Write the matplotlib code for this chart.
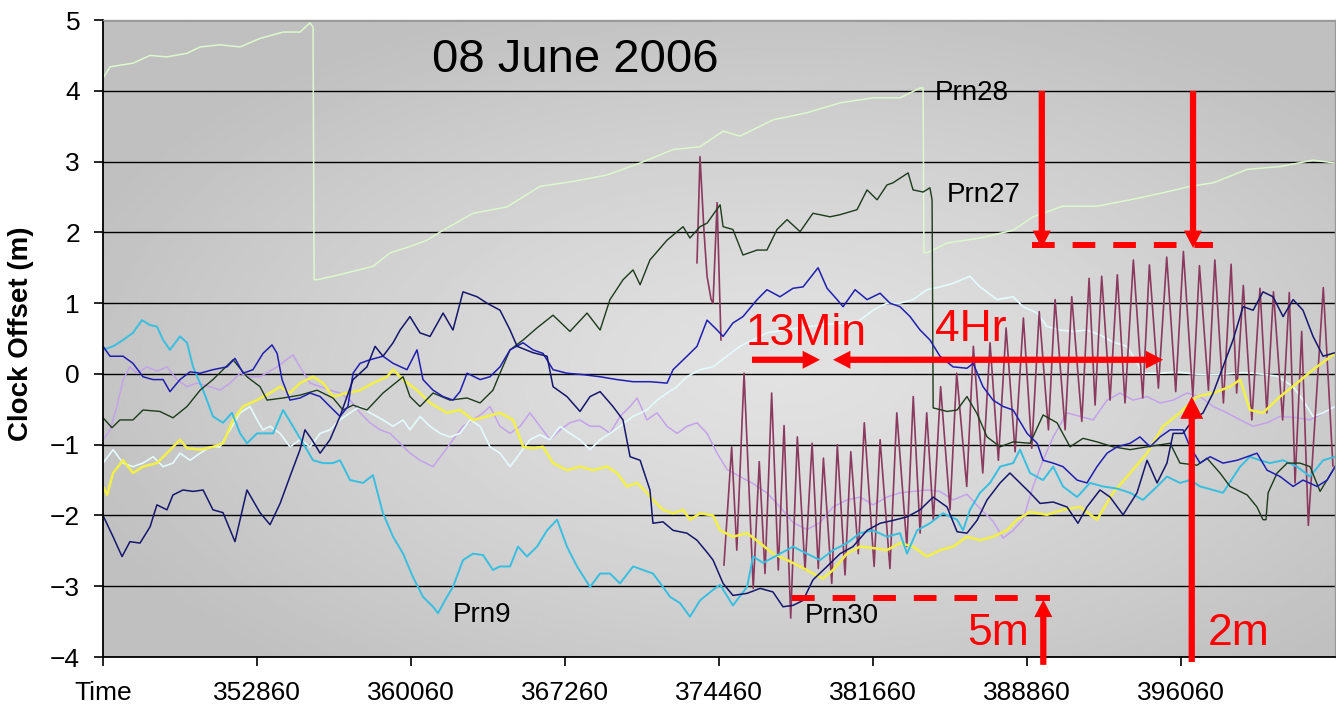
import numpy as np
import matplotlib
matplotlib.use("Agg")
import matplotlib.pyplot as plt

plt.rcParams['font.family'] = ['Liberation Sans', 'DejaVu Sans']

# start of the plotted window, GPS seconds of week (08 June 2006, 00:01)
T0 = 345660

x_ticks = [345660, 352860, 360060, 367260, 374460, 381660, 388860, 396060]
x_tick_labels = ['Time', '352860', '360060', '367260', '374460', '381660', '388860', '396060']
y_ticks = [-4, -3, -2, -1, 0, 1, 2, 3, 4, 5]

# all times below are seconds after T0, offsets in metres

# Prn28 - pale green, two clock jumps
prn28_t = [0, 330, 1400, 2200, 2990, 3930, 4540, 5470, 6410, 7340,
           8420, 9210, 9680, 9820, 9870, 10010, 10750, 11690, 12620, 13420,
           14350, 15150, 15900, 17300, 18890, 20430, 21970, 23560, 25110, 26650,
           27910, 28990, 29780, 31330, 32910, 34460, 36000, 37260, 38200, 38340,
           38380, 38520, 39460, 41000, 42550, 43480, 44880, 46470, 48020, 49560,
           50820, 51900, 53490, 55030, 56570, 57600]
prn28_v = [4.18, 4.34, 4.39, 4.50, 4.48, 4.53, 4.62, 4.65, 4.62, 4.74,
           4.83, 4.83, 4.96, 4.90, 1.33, 1.33, 1.38, 1.45, 1.52, 1.71,
           1.80, 1.89, 2.03, 2.27, 2.36, 2.65, 2.72, 2.81, 2.98, 3.17,
           3.21, 3.43, 3.36, 3.59, 3.69, 3.83, 3.90, 3.90, 4.04, 4.04,
           1.71, 1.71, 1.85, 1.92, 2.03, 2.22, 2.37, 2.37, 2.46, 2.56,
           2.65, 2.70, 2.89, 2.93, 3.02, 2.98]

# Prn27 - dark green, one jump
prn27_t = [0, 420, 790, 1400, 1870, 2660, 3270, 3930, 4540, 5140,
           6080, 6730, 7340, 7670, 8420, 9210, 10010, 10750, 11220, 11690,
           12340, 13090, 14030, 14350, 14820, 15430, 16220, 17020, 17630, 18230,
           18560, 19030, 19640, 20290, 21040, 21830, 22630, 23240, 23700, 24310,
           24780, 25110, 25570, 26370, 27120, 27440, 27910, 28240, 28850, 28990,
           29450, 29920, 30580, 31040, 31510, 31980, 32590, 33190, 33990, 34460,
           35250, 35720, 36190, 36650, 36930, 37640, 37870, 38340, 38660, 38760,
           38810, 39460, 39930, 40390, 40860, 41330, 41940, 42550, 43340, 43950,
           44600, 45210, 45820, 46470, 47220, 48020, 48810, 49890, 50350, 51150,
           51610, 52220, 52690, 53490, 53950, 54230, 54370, 54470, 54890, 55360,
           55960, 56430, 56900, 57600]
prn27_v = [-0.62, -0.76, -0.65, -0.65, -0.51, -0.53, -0.62, -0.46, -0.23, -0.08,
           0.20, -0.04, -0.18, -0.37, -0.34, -0.30, -0.23, -0.34, -0.51, -0.44,
           -0.51, -0.27, -0.04, -0.32, -0.46, -0.27, -0.37, -0.34, -0.41, -0.23,
           0.01, 0.34, 0.48, 0.65, 0.83, 0.60, 0.86, 0.62, 1.05, 1.33,
           1.47, 1.26, 1.61, 1.89, 2.08, 1.92, 2.08, 2.13, 2.39, 2.08,
           2.04, 1.68, 1.75, 1.75, 2.04, 2.18, 2.01, 2.27, 2.22, 2.25,
           2.32, 2.60, 2.46, 2.67, 2.70, 2.84, 2.60, 2.57, 2.63, 2.46,
           -0.48, -0.53, -0.51, -0.32, -0.56, -0.89, -1.03, -0.96, -0.98, -0.58,
           -0.69, -1.03, -0.91, -0.96, -1.03, -1.07, -1.03, -0.98, -1.26, -1.29,
           -1.19, -1.40, -1.59, -1.71, -1.88, -2.06, -2.06, -1.68, -1.40, -1.26,
           -1.26, -1.31, -1.66, -1.31]

# Prn30 - maroon, spike then the 13 minute oscillation
prn30_spike_t = [27770, 27910, 28100, 28240, 28430, 28520, 28710, 28890]
prn30_spike_v = [1.57, 3.07, 2.00, 1.38, 1.05, 1.00, 2.42, 0.48]
prn30_t = [29030, 29390, 29630, 29970, 30400, 30680, 30950, 31260, 31570, 31840,
           32150, 32460, 32820, 33150, 33440, 33680, 34070, 34330, 34690, 34960,
           35310, 35590, 36050, 36330, 36790, 37110, 37580, 37880, 38200, 38510,
           38820, 39160, 39600, 39910, 40380, 40690, 41130, 41470, 41860, 42220,
           42640, 43030, 43420, 43770, 44200, 44510, 44980, 45290, 45760, 46100,
           46380, 46690, 47080, 47420, 47780, 48170, 48610, 48920, 49340, 49730,
           50150, 50510, 50950, 51260, 51680, 51980, 52380, 52740, 53000, 53310,
           53710, 54090, 54410, 54720, 55150, 55460, 55730, 56040, 56350, 57050,
           57500]
prn30_v = [-2.70, -1.03, -2.49, 0.01, -3.03, -1.24, -2.82, -0.27, -2.77, -0.73,
           -3.45, -0.89, -2.77, -0.98, -2.75, -1.19, -2.96, -1.00, -2.84, -1.10,
           -2.54, -0.69, -2.72, -0.93, -2.75, -0.55, -2.44, -0.32, -2.25, -0.55,
           -2.07, -0.18, -1.92, 0.01, -1.59, 0.39, -1.40, 0.44, -1.22, 0.65,
           -1.10, 0.79, -1.05, 0.88, -0.79, 1.05, -0.79, 1.09, -0.67, 1.35,
           -0.44, 1.38, -0.37, 1.40, -0.41, 1.61, -0.34, 1.54, -0.20, 1.65,
           -0.25, 1.73, -0.32, 1.53, -0.23, 1.61, -0.41, 1.55, -0.27, 1.25,
           -0.65, 1.21, -0.55, 1.16, -0.65, 1.15, -1.54, 0.60, -2.14, 1.22,
           -1.30]

# Prn9 - cyan
prn9_t = [0, 470, 940, 1400, 1820, 2200, 2520, 2810, 3130, 3600,
          3930, 4210, 4680, 5140, 5610, 6030, 6410, 6730, 7200, 7950,
          8420, 8880, 9350, 9820, 10290, 10750, 11080, 11550, 12160, 12620,
          13090, 13560, 14030, 14490, 14960, 15430, 15660, 16080, 16360, 16830,
          17300, 17770, 18230, 18560, 19030, 19400, 19820, 20290, 20760, 21230,
          21690, 22160, 22770, 23240, 23700, 24170, 24780, 25250, 25710, 26180,
          26510, 26980, 27440, 27910, 28520, 28850, 29450, 30110, 30390, 30860,
          31650, 32260, 32910, 33520, 34130, 34780, 35390, 36000, 36650, 37260,
          37590, 38060, 38660, 39270, 39930, 40210, 40530, 41000, 41470, 41940,
          42550, 42870, 43340, 43950, 44420, 44880, 45540, 46140, 46750, 47410,
          48020, 48620, 49280, 49740, 50350, 50820, 51290, 51900, 52360, 53160,
          53620, 54090, 54560, 55170, 55820, 56430, 57040, 57600]
prn9_v = [0.34, 0.39, 0.48, 0.58, 0.76, 0.69, 0.67, 0.48, 0.34, 0.53,
          0.44, 0.10, -0.23, -0.60, -0.69, -0.55, -0.84, -0.98, -0.84, -0.84,
          -0.51, -0.74, -0.98, -1.22, -1.26, -1.26, -1.22, -1.50, -1.54, -1.43,
          -1.97, -2.30, -2.54, -2.87, -3.15, -3.29, -3.38, -3.15, -3.01, -2.63,
          -2.54, -2.56, -2.77, -2.72, -2.72, -2.44, -2.58, -2.44, -2.21, -2.06,
          -2.44, -2.72, -3.01, -2.82, -2.82, -2.96, -2.72, -2.77, -2.82, -3.01,
          -3.15, -3.24, -3.43, -3.20, -3.05, -2.98, -3.27, -3.01, -2.58, -2.67,
          -2.54, -2.44, -2.54, -2.63, -2.49, -2.39, -2.25, -2.21, -2.30, -2.25,
          -2.54, -2.21, -2.11, -1.97, -2.06, -2.21, -1.92, -1.68, -1.54, -1.31,
          -1.26, -1.07, -1.40, -1.50, -1.31, -1.59, -1.74, -1.54, -1.59, -1.62,
          -1.68, -1.78, -1.59, -1.45, -1.54, -1.50, -1.59, -1.64, -1.68, -1.31,
          -1.17, -1.22, -1.26, -1.22, -1.31, -1.45, -1.22, -1.17]

# navy satellite
navy_t = [0, 470, 890, 1260, 1730, 2200, 2520, 2990, 3270, 3740,
          4210, 4680, 5140, 5610, 6170, 6730, 7340, 7810, 8280, 8740,
          9210, 9440, 9770, 10150, 10610, 11080, 11690, 12340, 12720, 13090,
          13560, 13890, 14350, 14820, 15290, 15900, 16360, 16830, 17490, 17950,
          18560, 19030, 19360, 20100, 20760, 21040, 21690, 22300, 22770, 23240,
          23840, 24310, 24640, 25110, 25570, 25710, 26180, 26650, 27300, 27770,
          28290, 28520, 28990, 29450, 30110, 30720, 31320, 31790, 32260, 32730,
          33190, 33850, 34460, 35060, 35720, 36330, 36930, 37590, 38200, 38810,
          39460, 39930, 40390, 40860, 41330, 41940, 42400, 42870, 43340, 43810,
          44420, 45070, 45580, 46000, 46610, 47080, 47690, 48340, 48810, 49280,
          49740, 50030, 50490, 50960, 51430, 51900, 52360, 52830, 53300, 53770,
          54230, 54700, 55170, 55640, 56100, 56570, 57040, 57600]
navy_v = [-2.00, -2.30, -2.58, -2.37, -2.39, -2.16, -1.85, -1.92, -1.71, -1.64,
          -1.66, -1.64, -1.92, -1.96, -2.37, -1.64, -1.96, -2.13, -1.83, -1.45,
          -1.07, -0.79, -0.93, -1.12, -0.93, -0.60, -0.08, 0.10, 0.39, 0.25,
          0.44, 0.62, 0.81, 0.58, 0.53, 0.86, 0.62, 1.16, 1.09, 1.00,
          0.90, 0.62, 0.39, 0.30, 0.25, -0.18, -0.32, -0.53, -0.32, -0.25,
          -0.46, -0.65, -1.17, -1.22, -1.64, -2.11, -2.09, -2.21, -2.25, -2.35,
          -2.54, -2.63, -2.96, -3.13, -3.10, -3.03, -3.08, -3.29, -3.27, -3.20,
          -2.91, -2.72, -2.54, -2.44, -2.21, -2.11, -2.07, -2.02, -1.92, -1.74,
          -1.88, -2.23, -2.25, -2.07, -1.78, -1.54, -1.40, -1.54, -1.68, -1.83,
          -1.81, -1.88, -2.11, -1.88, -1.64, -1.74, -1.99, -1.68, -1.22, -1.54,
          -1.26, -0.84, -0.84, -0.65, -0.55, -0.27, 0.10, 0.48, 0.95, 0.90,
          1.16, 1.09, 0.81, 1.05, 0.90, 0.53, 0.25, 0.30]

# blue satellite
blue_t = [0, 330, 940, 1400, 1870, 2340, 2810, 3130, 3600, 4070,
          4540, 5140, 5800, 6170, 6550, 7010, 7480, 7900, 8140, 8370,
          8740, 9210, 9680, 10150, 10610, 11080, 11450, 11690, 12020, 12480,
          13090, 13560, 14210, 14680, 14960, 15430, 15900, 16360, 16690, 17020,
          17630, 18090, 18560, 19030, 19640, 20100, 20570, 21040, 21690, 22440,
          23240, 24030, 24780, 25570, 26370, 26650, 27300, 27770, 28240, 28710,
          28990, 29450, 29920, 30580, 31040, 31650, 32260, 32730, 33430, 33850,
          34320, 34600, 35160, 35720, 36330, 36790, 37260, 37730, 38200, 38660,
          39130, 39740, 40390, 40680, 41140, 41610, 42080, 42550, 43200, 43670,
          43950, 44420, 44880, 45540, 46000, 46470, 46940, 47410, 48020, 48480,
          48950, 49420, 49890, 50490, 50820, 51290, 51760, 52360, 53020, 53490,
          53950, 54420, 55030, 55640, 56100, 56760, 57230, 57600]
blue_v = [0.39, 0.25, 0.25, 0.15, -0.04, -0.08, -0.08, -0.25, -0.08, 0.03,
          0.01, 0.06, 0.10, 0.22, 0.01, 0.06, 0.29, 0.41, 0.29, -0.08,
          -0.37, -0.34, -0.27, -0.32, -0.46, -0.60, -0.46, 0.01, 0.15, 0.20,
          0.25, 0.15, 0.06, 0.34, -0.08, -0.23, -0.32, -0.37, -0.25, 0.01,
          -0.08, -0.04, 0.10, 0.34, 0.44, 0.34, 0.29, 0.06, 0.01, -0.01,
          -0.04, -0.08, -0.11, -0.11, -0.13, 0.06, 0.25, 0.39, 0.76, 0.62,
          0.53, 0.72, 0.81, 1.05, 1.19, 1.09, 1.21, 1.23, 1.50, 1.21,
          1.05, 0.95, 1.19, 1.05, 1.14, 1.00, 0.95, 0.81, 0.62, 0.48,
          0.25, 0.10, 0.08, 0.15, -0.18, -0.37, -0.46, -0.51, -0.84, -0.98,
          -1.22, -1.26, -1.31, -1.50, -1.54, -1.31, -1.12, -1.03, -0.98, -0.89,
          -1.03, -0.89, -0.79, -0.79, -1.03, -1.26, -1.17, -1.26, -1.22, -1.17,
          -1.12, -1.36, -1.45, -1.59, -1.50, -1.59, -1.50, -1.31]

# yellow satellite
yellow_t = [0, 190, 470, 940, 1400, 1870, 2520, 2990, 3600, 3930,
            4540, 5140, 5610, 6080, 6550, 7200, 7810, 8280, 8740, 9210,
            9820, 10290, 10750, 11410, 12020, 12620, 13280, 13560, 14030, 14680,
            15290, 16080, 16690, 17300, 17950, 18560, 19170, 19640, 20100, 20570,
            21040, 21690, 22300, 22910, 23560, 24030, 24500, 24970, 25430, 25710,
            26180, 26650, 27120, 27440, 27910, 28520, 28850, 29450, 30110, 30720,
            31320, 31980, 32590, 33190, 33660, 34130, 34780, 35390, 36000, 36650,
            37260, 37870, 38520, 39130, 39740, 40390, 41000, 41610, 42260, 42730,
            43340, 44130, 44880, 45680, 46470, 47220, 48020, 48810, 49560, 50350,
            51150, 51900, 52690, 53160, 53620, 54230, 55030, 55820, 56570, 57600]
yellow_v = [-1.59, -1.71, -1.40, -1.22, -1.40, -1.31, -1.26, -1.12, -0.93, -1.05,
            -1.07, -1.03, -0.98, -0.65, -0.46, -0.37, -0.27, -0.18, -0.27, -0.13,
            -0.04, -0.13, -0.32, -0.27, -0.23, -0.13, -0.04, 0.06, -0.08, -0.23,
            -0.41, -0.55, -0.51, -0.65, -0.60, -0.55, -0.65, -1.03, -1.05, -1.03,
            -1.26, -1.36, -1.31, -1.36, -1.31, -1.40, -1.59, -1.54, -1.68, -1.78,
            -1.92, -1.97, -1.92, -2.06, -1.97, -2.00, -2.21, -2.30, -2.25, -2.39,
            -2.54, -2.63, -2.72, -2.82, -2.89, -2.77, -2.54, -2.44, -2.46, -2.49,
            -2.39, -2.44, -2.58, -2.49, -2.44, -2.30, -2.35, -2.30, -2.21, -2.06,
            -1.95, -1.99, -1.92, -1.88, -2.06, -1.68, -1.40, -1.12, -0.74, -0.55,
            -0.32, -0.27, -0.18, -0.08, -0.51, -0.55, -0.32, -0.13, 0.06, 0.29]

# lilac satellite
lilac_t = [0, 330, 650, 940, 1260, 1590, 2060, 2520, 2990, 3460,
           3930, 4390, 5000, 5470, 5940, 6410, 6870, 7340, 8140, 8880,
           9210, 9680, 10150, 10610, 11080, 11550, 12020, 12480, 12950, 13420,
           13890, 14350, 14820, 15430, 15900, 16360, 16830, 17300, 17770, 18090,
           18560, 19030, 19500, 19960, 20430, 20900, 21370, 21830, 22300, 22770,
           23240, 23700, 24170, 24640, 24970, 25430, 25900, 26370, 26840, 27300,
           27770, 28240, 28710, 29170, 29780, 30390, 31040, 31650, 32260, 32910,
           33520, 34130, 34780, 35390, 36000, 36650, 37260, 38520, 39130, 39740,
           40390, 41000, 41610, 42080, 42550, 43010, 43480, 43950, 44420, 45070,
           45680, 46290, 46940, 47550, 48160, 48810, 49420, 50030, 50680, 51290,
           51900, 52550, 53160, 53770, 54420, 55030, 55820, 56430, 57600]
lilac_v = [-0.93, -0.79, -0.46, -0.08, 0.10, 0.01, 0.10, 0.04, 0.10, -0.08,
           -0.18, -0.13, -0.18, -0.23, -0.13, 0.01, -0.04, -0.04, 0.10, 0.27,
           0.10, -0.13, -0.18, -0.23, -0.27, -0.37, -0.55, -0.69, -0.79, -0.84,
           -0.98, -1.12, -1.22, -1.31, -1.12, -0.93, -0.74, -0.65, -0.55, -0.46,
           -0.74, -0.84, -0.74, -0.55, -0.74, -0.93, -0.79, -0.69, -0.65, -0.74,
           -0.74, -0.84, -0.60, -0.46, -0.34, -0.65, -0.55, -0.74, -0.84, -0.74,
           -0.69, -0.84, -1.12, -1.35, -1.45, -1.55, -1.68, -1.88, -2.10, -2.20,
           -2.10, -1.88, -1.78, -1.74, -1.85, -1.74, -1.68, -1.64, -1.66, -1.78,
           -1.70, -1.90, -2.08, -2.32, -2.21, -2.06, -1.59, -1.22, -0.89, -0.55,
           -0.60, -0.65, -0.37, -0.27, -0.37, -0.32, -0.41, -0.37, -0.27, -0.32,
           -0.46, -0.55, -0.65, -0.74, -0.69, -0.60, -0.62, -0.65, -0.46]

# pale cyan satellite
pale_t = [0, 470, 940, 1400, 1870, 2340, 2810, 3270, 3600, 4070,
          4540, 5000, 5470, 5940, 6410, 6870, 7200, 7480, 7810, 8280,
          8740, 9210, 9680, 10150, 10610, 11080, 11550, 12020, 12480, 13090,
          13560, 14030, 14350, 14820, 15290, 15760, 16220, 16690, 17160, 17630,
          18090, 18560, 19030, 19500, 19960, 20430, 20900, 21370, 21830, 22300,
          22770, 23240, 23700, 24170, 24780, 25430, 25900, 26370, 26840, 27300,
          27910, 28520, 29170, 29780, 30390, 31040, 31890, 32820, 33760, 34690,
          35390, 36000, 36650, 37260, 37870, 38520, 39130, 39740, 40530, 41000,
          41800, 42550, 43010, 43670, 44130, 44740, 45350, 46000, 46610, 47220,
          47870, 48160, 48620, 49420, 50210, 50960, 51760, 52550, 53300, 54090,
          54890, 55640, 56100, 56570, 57040, 57600]
pale_v = [-1.26, -1.07, -1.26, -1.31, -1.26, -1.17, -1.31, -1.26, -1.12, -1.22,
          -1.12, -1.03, -1.03, -0.79, -0.55, -0.46, -0.65, -0.79, -0.74, -0.84,
          -1.03, -0.93, -1.03, -0.84, -0.79, -0.65, -0.55, -0.46, -0.55, -0.65,
          -0.74, -0.65, -0.79, -0.60, -0.74, -0.84, -0.89, -0.84, -0.65, -0.74,
          -1.03, -1.12, -1.31, -1.12, -0.93, -0.86, -0.93, -0.74, -0.84, -0.93,
          -1.07, -0.93, -0.84, -0.74, -0.60, -0.51, -0.37, -0.27, -0.18, -0.04,
          0.06, 0.10, 0.25, 0.39, 0.48, 0.58, 0.62, 0.66, 0.70, 0.72,
          0.76, 0.90, 1.00, 1.00, 1.05, 1.19, 1.23, 1.28, 1.38, 1.23,
          1.05, 1.09, 0.95, 0.86, 0.67, 0.62, 0.60, 0.62, 0.55, 0.45,
          0.39, 0.25, 0.01, 0.01, 0.03, 0.00, -0.01, 0.00, 0.02, 0.00,
          -0.03, -0.18, -0.37, -0.60, -0.55, -0.46]

fig = plt.figure(figsize=(13.36, 7.13), dpi=100)
ax = fig.add_axes([0.0771, 0.0785, 0.9222, 0.8934])

# grey backdrop, lighter towards the middle
yy, xx = np.mgrid[0:1:300j, 0:1:600j]
r = np.sqrt(((xx - 0.55) / 0.62) ** 2 + ((yy - 0.45) / 0.62) ** 2)
shade = 0.885 - 0.135 * np.clip(r, 0, 1) ** 1.3
ax.imshow(shade, cmap='gray', vmin=0, vmax=1, extent=(0, 1, 0, 1),
          transform=ax.transAxes, aspect='auto', origin='lower', zorder=0,
          interpolation='bilinear')

ax.set_xlim(T0, T0 + 57600)
ax.set_ylim(-4, 5)

series = [
    (prn28_t, prn28_v, '#dcf8cc', 1.1),
    (lilac_t, lilac_v, '#c4a2ea', 1.1),
    (pale_t, pale_v, '#e4fbfb', 1.2),
    (prn30_spike_t, prn30_spike_v, '#8a3a5e', 1.2),
    (prn30_t, prn30_v, '#8a3a5e', 1.2),
    (yellow_t, yellow_v, '#f2f048', 1.8),
    (prn9_t, prn9_v, '#38bfe0', 1.4),
    (prn27_t, prn27_v, '#1c3a1c', 1.0),
    (blue_t, blue_v, '#1f1fb0', 1.1),
    (navy_t, navy_v, '#16166c', 1.1),
]
for t, v, color, lw in series:
    ax.plot(T0 + np.asarray(t), v, color=color, lw=lw, zorder=2)

ax.set_xticks(x_ticks)
ax.set_xticklabels(x_tick_labels)
ax.set_yticks(y_ticks)
ax.tick_params(axis='both', direction='out', length=6.5, width=1.2,
               labelsize=19, colors='black')
ax.tick_params(axis='x', pad=11)
ax.tick_params(axis='y', pad=10)
ax.yaxis.grid(True, color='black', lw=1.0)
ax.set_axisbelow(True)
for side in ('left', 'bottom'):
    ax.spines[side].set_color('black')
    ax.spines[side].set_linewidth(1.3)
for side in ('top', 'right'):
    ax.spines[side].set_color('#9a9a9a')
    ax.spines[side].set_linewidth(1.0)

fig.text(0.0157, 0.532, 'Clock Offset (m)', rotation=90, ha='center',
         va='center', fontsize=20, fontweight='bold')

ax.text(361040, 4.27, '08 June 2006', fontsize=34, va='baseline')
ax.text(384560, 3.87, 'Prn28', fontsize=20, va='baseline')
ax.text(385120, 2.43, 'Prn27', fontsize=20, va='baseline')
ax.text(362020, -3.50, 'Prn9', fontsize=20, va='baseline')
ax.text(378480, -3.52, 'Prn30', fontsize=20, va='baseline')

RED = '#ff0000'


def red_arrow(x0, y0, x1, y1, head=1.25, width=1.3):
    style = 'simple,head_length=%.2f,head_width=%.2f,tail_width=0.45' % (head, width)
    ax.annotate('', xy=(x1, y1), xytext=(x0, y0), annotation_clip=False,
                arrowprops=dict(arrowstyle=style, mutation_scale=10, color=RED,
                                lw=0, shrinkA=0, shrinkB=0), zorder=5)


def red_dashes(x0, x1, y):
    ax.plot([x0, x1], [y, y], color=RED, lw=4.3, dashes=(3.8, 3.0),
            clip_on=False, zorder=5)


# 13 minute period and 4 hour span
red_arrow(376000, 0.20, 379180, 0.20)
red_arrow(387500, 0.20, 379790, 0.20)
red_arrow(387500, 0.20, 395220, 0.20)
ax.text(375680, 0.41, '13Min', fontsize=32, color=RED, va='baseline', zorder=5)
ax.text(384560, 0.46, '4Hr', fontsize=32, color=RED, va='baseline', zorder=5)

# peak level of the oscillation
red_dashes(389090, 397560, 1.82)
red_arrow(389550, 4.0, 389550, 1.78)
red_arrow(396620, 4.0, 396620, 1.78)

# trough level and amplitudes
red_dashes(377870, 389935, -3.165)
red_arrow(389620, -4.11, 389620, -3.19)
red_arrow(396560, -4.07, 396560, -0.32, head=1.6, width=1.65)
ax.text(386055, -3.83, '5m', fontsize=32, color=RED, va='baseline', zorder=5)
ax.text(397320, -3.83, '2m', fontsize=32, color=RED, va='baseline', zorder=5)

fig.savefig('out.png', dpi=100)
